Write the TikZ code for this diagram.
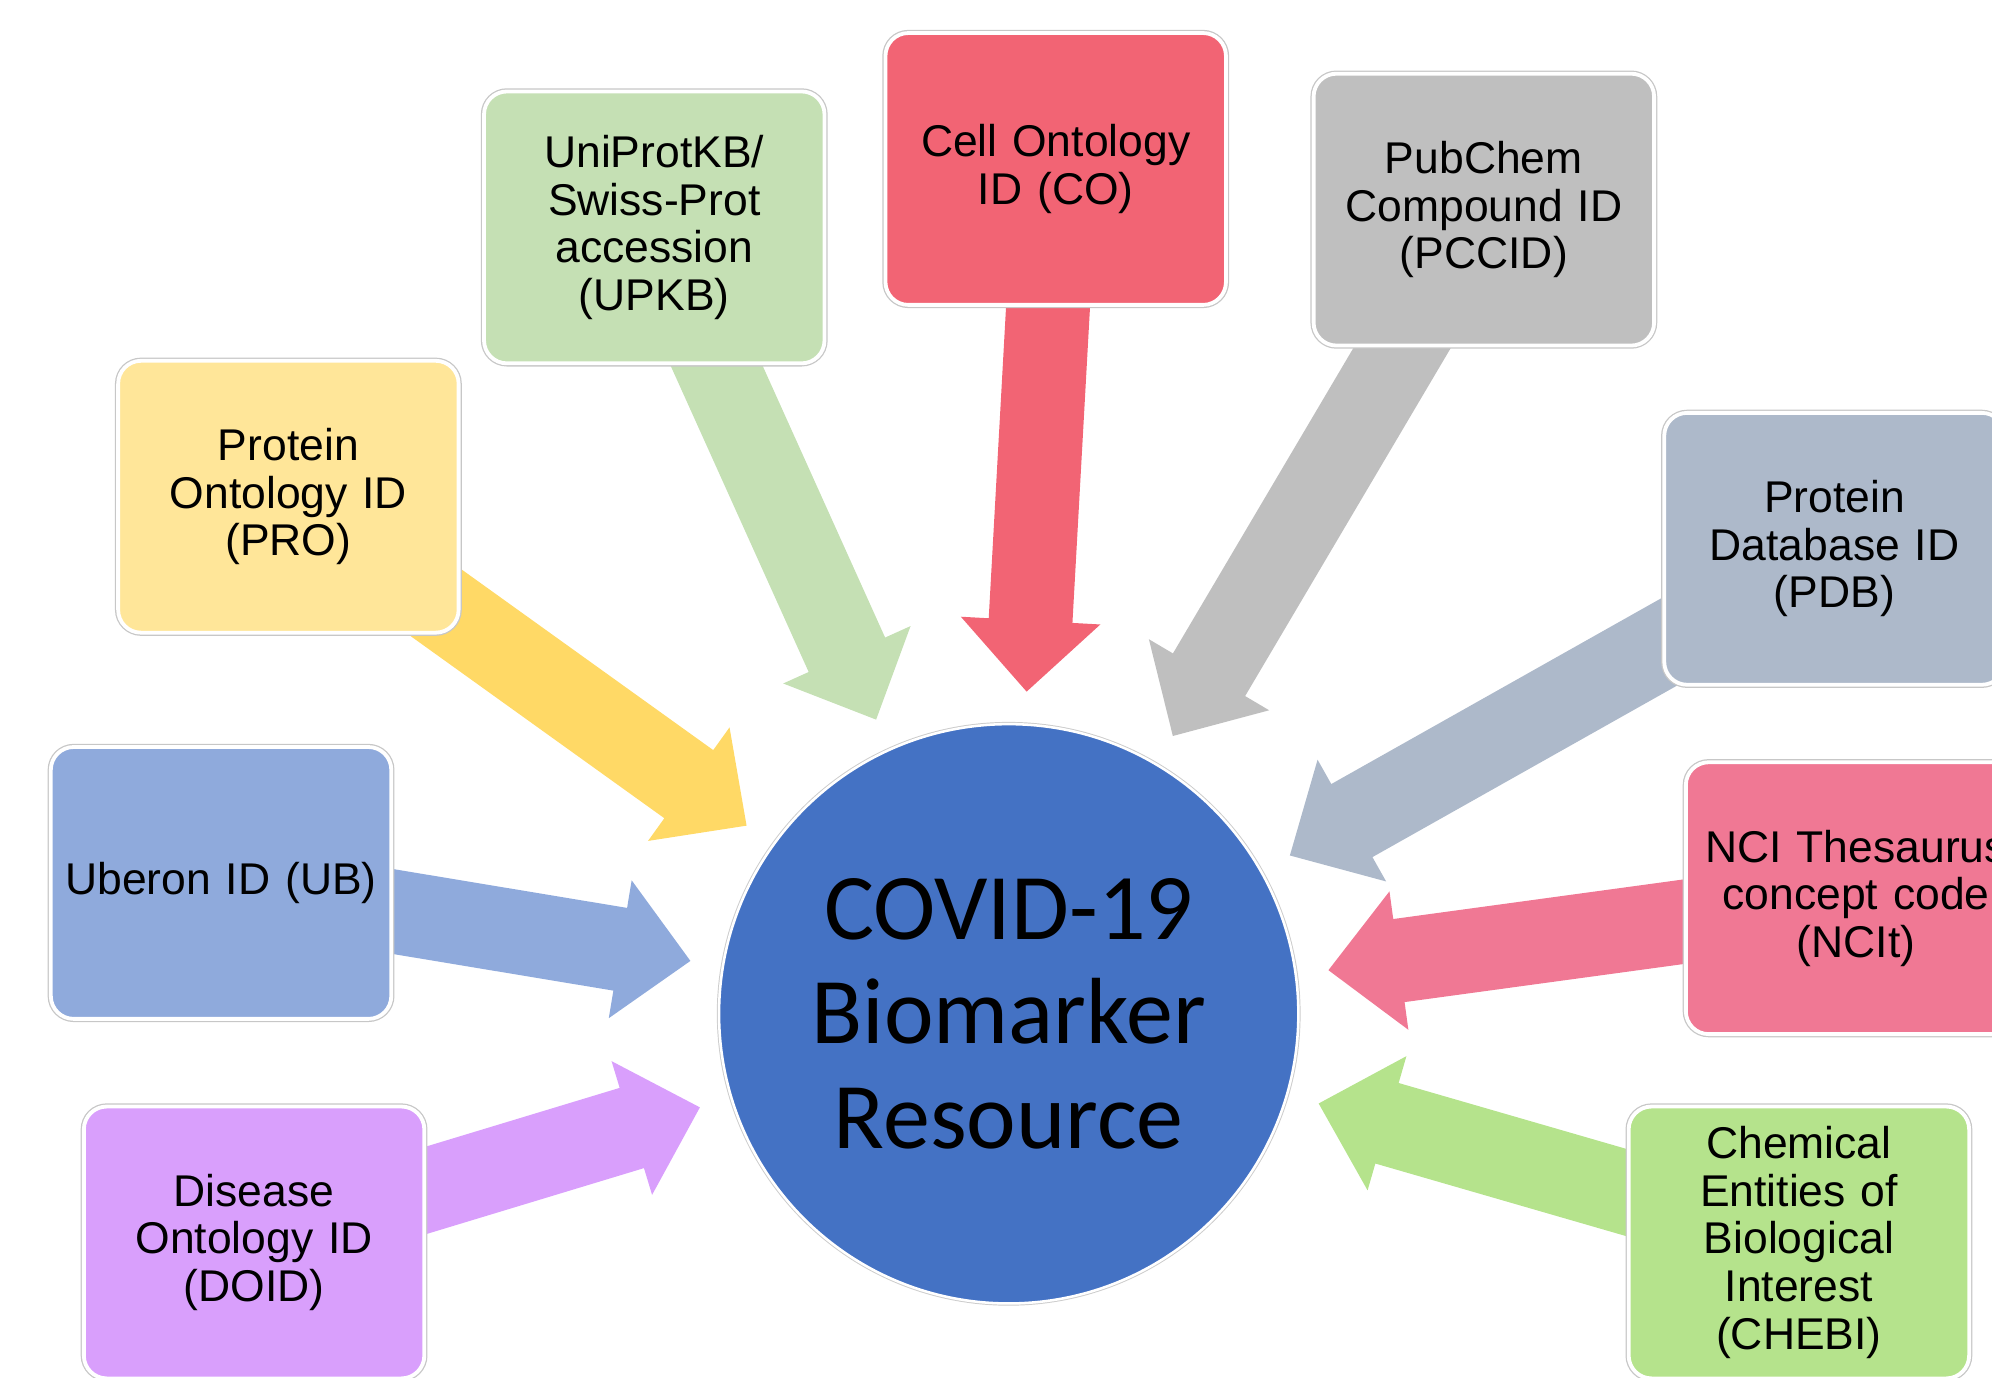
\documentclass[tikz,border=0pt]{standalone}
\usepackage{fontspec}
\setmainfont{Liberation Sans}
\newfontfamily\calibfont{Carlito}
\usetikzlibrary{calc,backgrounds}
\definecolor{cUni}{HTML}{C5E0B4}
\definecolor{cCO}{HTML}{F26474}
\definecolor{cPub}{HTML}{BFBFBF}
\definecolor{cPro}{HTML}{FFE699}
\definecolor{cProA}{HTML}{FFD966}
\definecolor{cPdb}{HTML}{ADB9CA}
\definecolor{cUb}{HTML}{8FAADC}
\definecolor{cNci}{HTML}{F07894}
\definecolor{cDoid}{HTML}{D99FFC}
\definecolor{cChebi}{HTML}{B5E38C}
\definecolor{cBlue}{HTML}{4472C4}
\begin{document}
\begin{tikzpicture}[x=1pt,y=-1pt,
  idbox/.style={rectangle, rounded corners=18pt, minimum width=268pt, minimum height=214pt,
    draw=white, line width=3pt, preaction={draw=black!22, line width=5pt},
    align=center, text width=262pt, inner sep=0pt,
    font=\fontsize{35}{37.5}\selectfont},
  hub/.style={circle, minimum size=456pt, fill=cBlue, draw=white, line width=2pt,
    preaction={draw=black!20, line width=3.5pt}, align=center, inner sep=0pt,
    font=\calibfont\fontsize{74}{82.5}\selectfont}]
\useasboundingbox (0,0) rectangle (1568,1084);

\node[hub] (c) at (794,798) {COVID-19\\Biomarker\\Resource};

\node[idbox, fill=cUni]   (uni)   at (515,179)  {UniProtKB/\\Swiss-Prot\\accession\\(UPKB)};
\node[idbox, fill=cCO]    (co)    at (831,133)  {Cell Ontology\\ID (CO)};
\node[idbox, fill=cPub]   (pub)   at (1168,165) {PubChem\\Compound ID\\(PCCID)};
\node[idbox, fill=cPro]   (pro)   at (227,391)  {Protein\\Ontology ID\\(PRO)};
\node[idbox, fill=cPdb]   (pdb)   at (1444,432) {Protein\\Database ID\\(PDB)};
\node[idbox, fill=cUb]    (ub)    at (174,695)  {Uberon ID (UB)};
\node[idbox, fill=cNci]   (nci)   at (1461,707) {NCI Thesaurus\\concept code\\(NCIt)};
\node[idbox, fill=cDoid]  (doid)  at (200,978)  {Disease\\Ontology ID\\(DOID)};
\node[idbox, fill=cChebi] (chebi) at (1416,978) {Chemical\\Entities of\\Biological\\Interest\\(CHEBI)};

\begin{scope}[on background layer]
\foreach \b/\col in {uni/cUni, co/cCO, pub/cPub, pro/cProA, pdb/cPdb, ub/cUb, nci/cNci, doid/cDoid, chebi/cChebi}{
  \coordinate (\b-tip) at ($(c.center)!254pt!(\b.center)$);
  \coordinate (\b-base) at ($(\b-tip)!56pt!(\b.center)$);
  \fill[\col] ($(\b.center)!33pt!90:(\b-tip)$) -- ($(\b-base)!33pt!90:(\b-tip)$)
    -- ($(\b-base)!55pt!90:(\b-tip)$) -- (\b-tip) -- ($(\b-base)!55pt!-90:(\b-tip)$)
    -- ($(\b-base)!33pt!-90:(\b-tip)$) -- ($(\b.center)!33pt!-90:(\b-tip)$) -- cycle;
}
\end{scope}
\end{tikzpicture}
\end{document}
